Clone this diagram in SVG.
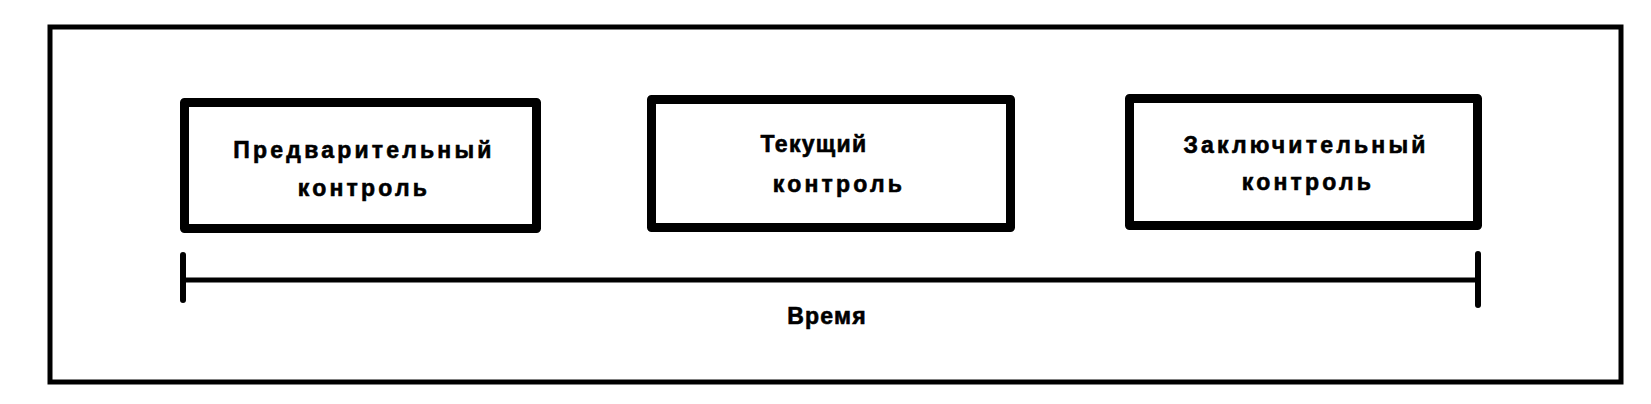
<svg xmlns="http://www.w3.org/2000/svg" width="1651" height="404" viewBox="0 0 1651 404">
<style>
.frame{fill:none;stroke:#000;stroke-width:5}
.box{fill:#fff;stroke:#000;stroke-width:9;stroke-linejoin:round}
.lbl{font-family:"Liberation Sans",Arial,sans-serif;font-weight:bold;font-size:23px;letter-spacing:3.2px;fill:#000;stroke:#000;stroke-width:0.6;text-anchor:middle}
.line{stroke:#000;stroke-width:5;fill:none}
.tick{stroke:#000;stroke-width:6;stroke-linecap:round;fill:none}
</style>
<rect width="1651" height="404" fill="#fff"/>
<rect class="frame" x="50" y="27" width="1571" height="355"/>
<g id="node-pre">
<rect class="box" x="184.5" y="102.5" width="352" height="126"/>
<text class="lbl" x="364" y="158">Предварительный</text>
<text class="lbl" x="364" y="196">контроль</text>
</g>
<g id="node-cur">
<rect class="box" x="651.5" y="99.5" width="359" height="128"/>
<text class="lbl" x="814" y="152" style="letter-spacing:1.3px">Текущий</text>
<text class="lbl" x="839" y="192">контроль</text>
</g>
<g id="node-fin">
<rect class="box" x="1129.5" y="98.5" width="348" height="127"/>
<text class="lbl" x="1306" y="153">Заключительный</text>
<text class="lbl" x="1308" y="190">контроль</text>
</g>
<g id="connectors">
<line class="line" x1="183" y1="280" x2="1478" y2="280"/>
<line class="tick" x1="183" y1="255" x2="183" y2="300"/>
<line class="tick" x1="1478" y1="254" x2="1478" y2="305"/>
</g>
<g id="time-label">
<text class="lbl" x="827" y="324" style="letter-spacing:1.2px">Время</text>
</g>
</svg>
